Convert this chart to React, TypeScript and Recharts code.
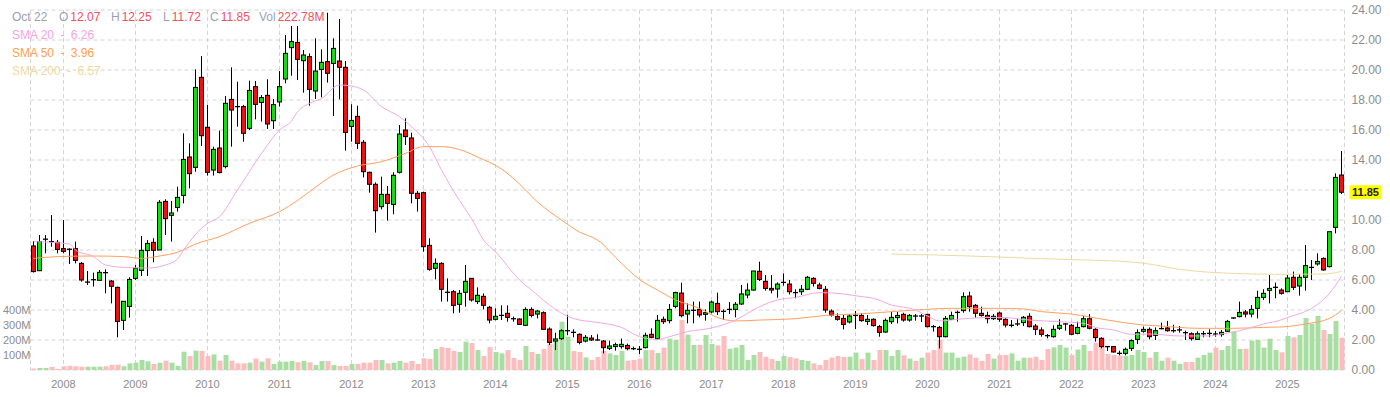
import React from "react";
import {
  ComposedChart,
  Bar,
  Line,
  XAxis,
  YAxis,
  CartesianGrid,
  Cell,
  ReferenceLine,
} from "recharts";

const FONT = "'Liberation Sans', Arial, sans-serif";

// first candle of the series
const START_YEAR = 2007;
const START_MONTH = 8;

// monthly candles: [open, high, low, close]
const candles: number[][] = [
  // 2007 (Aug - Dec)
  [8.27, 8.6, 6.5, 6.56], [6.62, 9.0, 6.6, 8.56], [8.7, 9.0, 7.78, 8.72], [8.6, 10.33, 8.22, 8.56], [8.51, 8.67, 7.78, 8.04],
  // 2008
  [8.09, 10.0, 7.78, 7.91], [8.07, 8.11, 7.07, 8.05], [8.09, 8.56, 7.11, 7.31], [7.11, 7.2, 5.89, 6.0],
  [5.84, 6.6, 5.67, 5.86], [6.0, 6.49, 5.56, 6.02], [5.98, 6.67, 5.98, 6.51], [6.51, 6.71, 5.11, 6.49],
  [5.93, 6.0, 4.44, 5.58], [5.51, 5.56, 2.18, 3.24], [3.31, 4.6, 2.67, 4.58], [4.24, 6.18, 3.49, 6.04],
  // 2009
  [6.11, 7.0, 6.0, 6.78], [6.64, 8.93, 6.27, 7.98], [7.96, 8.67, 6.27, 8.44], [8.51, 8.78, 7.18, 7.98],
  [8.0, 11.33, 8.0, 11.18], [11.24, 11.38, 9.0, 10.09], [10.31, 11.27, 8.56, 10.47], [10.84, 12.22, 10.56, 11.51],
  [11.64, 15.78, 11.11, 14.04], [14.2, 15.11, 12.11, 13.09], [13.51, 20.04, 13.22, 18.84], [19.51, 20.93, 14.93, 15.62],
  // 2010
  [16.18, 17.67, 12.96, 13.18], [13.33, 14.89, 12.96, 14.71], [14.8, 15.96, 13.11, 13.16], [13.56, 18.27, 13.44, 17.78],
  [18.04, 20.18, 14.89, 17.33], [17.6, 19.22, 16.22, 17.56], [17.56, 17.67, 15.22, 15.78], [16.11, 19.29, 16.0, 18.64],
  [18.89, 19.27, 16.71, 17.71], [17.84, 18.33, 16.56, 18.16], [18.31, 19.38, 16.07, 16.4], [16.62, 18.07, 16.07, 17.69],
  // 2011
  [17.87, 19.93, 17.56, 18.89], [19.4, 22.33, 19.11, 21.11], [21.49, 22.93, 19.62, 21.89], [21.84, 22.93, 19.33, 20.71],
  [20.62, 21.33, 18.49, 21.0], [20.89, 21.11, 17.62, 18.71], [18.6, 22.11, 18.07, 19.93], [20.04, 21.38, 18.18, 20.51],
  [20.56, 23.82, 19.16, 19.78], [20.44, 22.11, 16.93, 21.44], [20.6, 23.4, 18.04, 20.18], [20.18, 20.6, 14.62, 15.84],
  // 2012
  [16.24, 17.71, 15.22, 16.64], [16.91, 17.62, 14.73, 15.11], [15.18, 15.33, 12.84, 13.22], [13.18, 13.22, 11.82, 12.38],
  [12.38, 12.51, 9.16, 10.62], [10.89, 12.89, 10.71, 11.71], [11.71, 12.27, 9.96, 11.11], [11.04, 13.18, 10.38, 12.98],
  [13.18, 16.33, 13.1, 15.73], [16.0, 16.78, 15.0, 15.56], [15.47, 15.82, 11.11, 11.78], [11.78, 11.93, 10.56, 11.44],
  // 2013
  [11.82, 11.89, 7.89, 8.22], [8.31, 8.78, 6.62, 6.71], [6.78, 7.44, 6.04, 7.11], [7.11, 7.18, 4.56, 5.38],
  [5.2, 6.11, 4.56, 5.18], [5.22, 5.33, 3.78, 4.31], [4.38, 5.33, 3.82, 5.11], [5.18, 7.0, 4.22, 5.91],
  [6.11, 6.13, 4.56, 4.67], [4.56, 5.51, 4.4, 4.98], [4.91, 5.11, 4.04, 4.31], [4.18, 4.27, 3.11, 3.33],
  // 2014
  [3.38, 4.11, 3.31, 3.58], [3.62, 4.31, 3.33, 3.64], [3.78, 4.31, 3.22, 3.51], [3.44, 3.56, 3.22, 3.42],
  [3.4, 3.44, 3.0, 3.04], [2.98, 4.18, 2.93, 4.04], [4.04, 4.18, 3.51, 3.64], [3.73, 4.0, 3.44, 3.93],
  [3.82, 3.91, 2.67, 2.71], [2.73, 2.84, 1.67, 1.84], [1.93, 2.49, 1.33, 2.07], [2.09, 2.71, 2.0, 2.62],
  // 2015
  [2.6, 3.67, 2.33, 2.62], [2.53, 2.71, 2.18, 2.51], [2.38, 2.44, 1.71, 1.84], [1.93, 2.33, 1.84, 2.18],
  [2.13, 2.33, 1.93, 2.0], [2.02, 2.38, 1.96, 2.0], [1.93, 2.0, 1.11, 1.49], [1.44, 1.96, 1.33, 1.6],
  [1.56, 1.82, 1.29, 1.69], [1.56, 2.09, 1.42, 1.71], [1.64, 1.76, 1.31, 1.42], [1.44, 1.56, 1.33, 1.42],
  // 2016
  [1.4, 1.6, 1.07, 1.38], [1.49, 2.49, 1.44, 2.31], [2.38, 2.78, 2.11, 2.18], [2.09, 3.67, 2.04, 3.31],
  [3.38, 3.56, 3.07, 3.22], [3.29, 4.4, 3.11, 4.04], [4.24, 5.22, 4.11, 5.16], [5.13, 5.82, 3.51, 3.62],
  [3.73, 4.44, 3.11, 3.98], [3.96, 4.56, 3.11, 3.98], [4.04, 4.56, 3.51, 3.67], [3.71, 4.04, 3.29, 3.82],
  // 2017
  [3.87, 4.62, 3.78, 4.53], [4.44, 5.16, 3.67, 3.89], [3.93, 4.04, 3.33, 3.91], [4.02, 4.53, 3.73, 4.04],
  [4.04, 4.53, 3.51, 4.38], [4.4, 5.67, 4.33, 5.07], [5.0, 5.78, 4.78, 5.33], [5.33, 6.6, 5.29, 6.6],
  [6.58, 7.22, 5.93, 6.04], [5.91, 6.33, 5.29, 5.44], [5.44, 6.33, 5.11, 5.33], [5.4, 5.84, 4.82, 5.73],
  // 2018
  [5.82, 6.44, 5.62, 5.84], [5.73, 6.0, 5.04, 5.22], [5.18, 5.38, 4.78, 5.16], [5.22, 5.67, 5.0, 5.38],
  [5.38, 6.27, 5.33, 6.18], [6.11, 6.18, 5.56, 5.78], [5.67, 5.82, 5.38, 5.44], [5.38, 5.6, 3.82, 4.0],
  [3.93, 4.04, 3.56, 3.67], [3.56, 3.78, 3.29, 3.38], [3.44, 3.67, 2.71, 3.04], [3.2, 3.73, 3.11, 3.6],
  // 2019
  [3.62, 3.93, 2.73, 3.64], [3.64, 3.78, 3.22, 3.29], [3.24, 3.67, 3.0, 3.38], [3.38, 3.44, 2.89, 2.96],
  [2.89, 3.0, 2.22, 2.51], [2.53, 3.44, 2.49, 3.31], [3.22, 3.87, 3.07, 3.51], [3.49, 3.87, 3.11, 3.64],
  [3.71, 3.82, 3.22, 3.33], [3.33, 3.73, 3.22, 3.64], [3.62, 3.73, 3.29, 3.6], [3.58, 3.73, 3.2, 3.6],
  // 2020
  [3.71, 3.73, 2.84, 2.89], [2.91, 3.0, 2.56, 2.89], [2.84, 2.93, 1.44, 2.22], [2.22, 3.6, 2.18, 3.44],
  [3.38, 3.89, 3.33, 3.64], [3.82, 3.96, 3.22, 3.84], [3.96, 5.18, 3.82, 4.89], [4.93, 5.22, 3.89, 4.22],
  [4.31, 4.4, 3.49, 3.78], [3.78, 4.22, 3.56, 3.64], [3.64, 3.89, 3.11, 3.42], [3.42, 3.73, 3.33, 3.58],
  // 2021
  [3.8, 3.89, 3.22, 3.38], [3.38, 3.44, 2.84, 3.0], [2.96, 3.33, 2.84, 2.98], [3.05, 3.42, 2.93, 3.07],
  [3.16, 3.6, 2.93, 3.51], [3.58, 3.78, 2.84, 2.89], [2.93, 3.07, 2.33, 2.71], [2.67, 2.84, 2.22, 2.38],
  [2.31, 2.4, 2.11, 2.29], [2.22, 2.98, 2.16, 2.71], [2.78, 3.38, 2.67, 2.98], [3.05, 3.11, 2.62, 3.07],
  // 2022
  [2.98, 3.07, 2.33, 2.38], [2.44, 3.22, 2.38, 2.84], [2.89, 3.6, 2.84, 3.42], [3.42, 3.73, 2.71, 2.78],
  [2.71, 2.78, 1.89, 2.16], [2.11, 2.18, 1.44, 1.56], [1.58, 1.6, 1.27, 1.56], [1.56, 1.6, 1.16, 1.2],
  [1.13, 1.29, 0.98, 1.11], [1.11, 1.49, 0.98, 1.38], [1.44, 2.04, 1.27, 1.96], [2.04, 2.71, 1.73, 2.49],
  // 2023
  [2.58, 2.89, 2.49, 2.71], [2.71, 2.84, 2.04, 2.22], [2.31, 2.84, 2.0, 2.62], [2.74, 3.16, 2.71, 2.76],
  [2.8, 3.27, 2.56, 2.62], [2.6, 3.02, 2.49, 2.62], [2.65, 2.93, 2.49, 2.67], [2.51, 2.62, 2.0, 2.49],
  [2.42, 2.51, 1.96, 2.09], [2.04, 2.58, 2.0, 2.42], [2.4, 2.6, 2.18, 2.42], [2.42, 2.71, 2.18, 2.44],
  // 2024
  [2.42, 2.6, 2.22, 2.4], [2.36, 2.67, 2.22, 2.51], [2.58, 3.33, 2.53, 3.24], [3.45, 3.49, 3.4, 3.47],
  [3.56, 4.56, 3.51, 3.84], [3.87, 4.0, 3.51, 3.73], [3.73, 4.33, 3.51, 4.04], [4.11, 5.29, 3.44, 4.84],
  [4.84, 5.38, 4.67, 5.11], [5.31, 6.33, 4.44, 5.44], [5.49, 5.82, 4.78, 5.51], [5.33, 5.44, 5.02, 5.11],
  // 2025 (Jan - Oct)
  [5.22, 6.33, 5.22, 6.13], [6.18, 6.56, 5.33, 5.51], [5.6, 6.4, 4.96, 6.18], [6.18, 8.33, 5.29, 6.96],
  [6.8, 7.33, 6.0, 6.84], [7.07, 7.78, 6.96, 7.24], [7.44, 7.51, 6.62, 6.67], [6.89, 9.22, 6.84, 9.22],
  [9.51, 13.11, 9.11, 12.84], [13.0, 14.6, 11.73, 11.85],
];

// monthly volume, millions
const volumes: number[] = [
  10, 14, 14, 20, 8,
  25, 28, 25, 22, 22, 22, 22, 25, 35, 35, 25, 44,
  49, 67, 58, 40, 49, 62, 49, 27, 122, 93, 129, 127,
  93, 104, 62, 100, 62, 44, 44, 49, 76, 56, 78, 40,
  56, 56, 60, 52, 60, 51, 33, 60, 60, 33, 27, 27,
  40, 40, 49, 49, 67, 67, 44, 49, 60, 49, 60, 40,
  78, 73, 140, 153, 147, 127, 120, 189, 180, 133, 93, 153,
  120, 111, 133, 80, 67, 160, 120, 107, 140, 173, 200, 322,
  222, 127, 120, 84, 67, 87, 127, 111, 100, 127, 62, 67,
  76, 133, 133, 113, 149, 209, 200, 333, 236, 167, 167, 233,
  173, 164, 227, 142, 149, 167, 67, 100, 120, 89, 73, 60,
  93, 87, 78, 67, 60, 44, 33, 67, 82, 93, 87, 89,
  116, 73, 116, 67, 133, 133, 93, 133, 98, 76, 60, 82,
  116, 133, 200, 116, 116, 82, 89, 104, 82, 60, 107, 76,
  100, 100, 111, 62, 82, 82, 89, 67, 140, 151, 167, 149,
  100, 136, 167, 127, 182, 216, 107, 100, 96, 93, 100, 133,
  120, 82, 120, 62, 82, 62, 40, 53, 53, 82, 100, 116,
  149, 133, 160, 256, 140, 142, 196, 200, 149, 209, 133, 118,
  227, 218, 233, 347, 307, 360, 267, 240, 327, 215,
];

// moving averages at a few months
const sma20Points: [string, number][] = [
  ["2007-08", 8.56], ["2008-02", 8.4], ["2008-03", 8.0], ["2008-06", 7.56], ["2008-08", 7.0],
  ["2008-11", 6.84], ["2009-03", 6.8], ["2009-06", 7.0], ["2009-08", 7.4], ["2009-09", 8.0],
  ["2010-01", 9.78], ["2010-03", 10.22], ["2010-06", 12.0], ["2010-10", 14.44], ["2011-01", 16.0],
  ["2011-03", 16.6], ["2011-04", 17.2], ["2011-06", 17.78], ["2011-08", 18.1], ["2011-11", 19.0],
  ["2012-01", 18.93], ["2012-03", 18.67], ["2012-06", 17.56], ["2012-09", 16.89], ["2012-11", 16.22],
  ["2013-02", 14.89], ["2013-04", 13.33], ["2013-07", 11.3], ["2013-09", 10.1], ["2013-11", 8.67],
  ["2014-01", 7.89], ["2014-05", 6.0], ["2014-07", 5.33], ["2014-10", 4.33], ["2014-12", 3.78],
  ["2015-03", 3.33], ["2015-05", 3.22], ["2015-10", 2.84], ["2016-01", 2.22], ["2016-04", 2.04],
  ["2016-06", 2.22], ["2016-09", 2.56], ["2017-01", 2.8], ["2017-05", 3.33], ["2017-09", 4.22],
  ["2017-12", 4.67], ["2018-03", 4.84], ["2018-07", 5.16], ["2018-11", 5.07], ["2019-02", 4.89],
  ["2019-04", 4.78], ["2019-07", 4.33], ["2019-11", 4.0], ["2020-01", 3.6], ["2020-03", 3.27],
  ["2020-06", 3.38], ["2020-10", 3.49], ["2021-01", 3.51], ["2021-06", 3.33], ["2021-11", 3.22],
  ["2022-03", 3.11], ["2022-05", 2.84], ["2022-08", 2.67], ["2022-11", 2.38], ["2023-02", 2.4],
  ["2023-07", 2.27], ["2023-12", 2.27], ["2024-02", 2.4], ["2024-05", 2.62], ["2024-09", 3.07],
  ["2024-12", 3.35], ["2025-01", 3.5], ["2025-05", 4.11], ["2025-08", 5.11], ["2025-10", 6.26],
];

const sma50Points: [string, number][] = [
  ["2007-08", 7.44], ["2007-12", 7.56], ["2008-06", 7.6], ["2008-11", 7.56], ["2009-02", 7.44],
  ["2009-05", 7.6], ["2009-08", 7.85], ["2009-11", 8.4], ["2010-03", 8.89], ["2010-08", 9.78],
  ["2011-01", 10.56], ["2011-04", 11.3], ["2011-06", 11.89], ["2011-10", 13.0], ["2012-02", 13.6],
  ["2012-06", 13.89], ["2012-10", 14.44], ["2013-01", 14.89], ["2013-04", 14.89], ["2013-07", 14.7],
  ["2013-10", 14.2], ["2014-02", 13.4], ["2014-05", 12.4], ["2014-08", 11.2], ["2014-12", 10.0],
  ["2015-03", 9.2], ["2015-06", 8.67], ["2015-10", 7.11], ["2016-01", 6.04], ["2016-04", 5.33],
  ["2016-07", 4.67], ["2016-11", 4.11], ["2017-02", 3.5], ["2017-05", 3.27], ["2017-09", 3.33],
  ["2018-03", 3.42], ["2018-08", 3.64], ["2019-02", 3.75], ["2019-11", 4.0], ["2020-05", 4.11],
  ["2021-01", 4.11], ["2021-05", 4.07], ["2021-08", 3.89], ["2022-01", 3.73], ["2022-07", 3.33],
  ["2023-01", 3.0], ["2023-04", 2.93], ["2023-10", 2.78], ["2024-04", 2.78], ["2024-09", 2.84],
  ["2024-12", 2.87], ["2025-04", 3.07], ["2025-08", 3.44], ["2025-10", 3.96],
];

const sma200Points: [string, number][] = [
  ["2019-07", 7.73], ["2020-02", 7.67], ["2020-08", 7.6], ["2021-01", 7.53], ["2021-11", 7.38],
  ["2022-04", 7.33], ["2023-01", 7.12], ["2023-07", 6.71], ["2024-04", 6.44], ["2024-12", 6.38],
  ["2025-07", 6.4], ["2025-10", 6.57],
];

const yearTicks = [
  "2008-01", "2009-01", "2010-01", "2011-01", "2012-01", "2013-01", "2014-01", "2015-01", "2016-01",
  "2017-01", "2018-01", "2019-01", "2020-01", "2021-01", "2022-01", "2023-01", "2024-01", "2025-01",
];
const priceTicks = [0, 2, 4, 6, 8, 10, 12, 14, 16, 18, 20, 22, 24];
const volumeTicks = [100, 200, 300, 400];

const headerDate = "Oct 22";
const headerValues = [
  { key: "O", value: "12.07", x: 59 },
  { key: "H", value: "12.25", x: 111 },
  { key: "L", value: "11.72", x: 163 },
  { key: "C", value: "11.85", x: 210 },
  { key: "Vol", value: "222.78M", x: 259 },
];
const smaLegend = [
  { name: "SMA 20", value: "6.26", color: "#f4a3e6" },
  { name: "SMA 50", value: "3.96", color: "#ff9f4f" },
  { name: "SMA 200", value: "6.57", color: "#f0d9a0" },
];
const lastPrice = 11.85;

const UP = "#11dd11";
const DOWN = "#ee1111";
const VOL_UP = "#a9dea3";
const VOL_DOWN = "#fbbdbd";

const monthLabel = (i: number) => {
  const m = START_MONTH - 1 + i;
  const y = START_YEAR + Math.floor(m / 12);
  return `${y}-${String((m % 12) + 1).padStart(2, "0")}`;
};

const toMap = (pts: [string, number][]) => new Map(pts.map(([k, v]) => [k, v]));
const s20 = toMap(sma20Points);
const s50 = toMap(sma50Points);
const s200 = toMap(sma200Points);

const rows = candles.map(([open, high, low, close], i) => {
  const date = monthLabel(i);
  return {
    date,
    open,
    high,
    low,
    close,
    up: close >= open,
    volume: volumes[i],
    sma20: s20.get(date) ?? null,
    sma50: s50.get(date) ?? null,
    sma200: s200.get(date) ?? null,
  };
});

function Candle(props: any) {
  const { x, y, width, height, payload } = props;
  if (payload == null) return null;
  const { open, high, low, close, up } = payload;
  const cx = Math.floor(x + width / 2) + 0.5;
  const top = Math.min(y, y + height);
  const bot = Math.max(y, y + height);
  const k = high > low ? (bot - top) / (high - low) : 0;
  const yO = top + (high - open) * k;
  const yC = top + (high - close) * k;
  const bTop = Math.min(yO, yC);
  const bH = Math.abs(yO - yC);
  return (
    <g>
      <line x1={cx} x2={cx} y1={top} y2={bot} stroke="#000" strokeWidth={1} />
      {bH < 1.5 ? (
        <line x1={cx - 2.5} x2={cx + 2.5} y1={yC} y2={yC} stroke="#000" strokeWidth={1.3} />
      ) : (
        <rect
          x={cx - 2}
          y={bTop}
          width={4}
          height={bH}
          fill={up ? UP : DOWN}
          stroke="#000"
          strokeWidth={1}
        />
      )}
    </g>
  );
}

function PriceTag(props: any) {
  const { viewBox } = props;
  if (!viewBox) return null;
  const x = viewBox.x + viewBox.width + 5;
  const y = viewBox.y;
  return (
    <g>
      <rect x={x} y={y - 7} width={32} height={14} fill="#ffff00" />
      <text
        x={x + 16}
        y={y}
        dy="0.35em"
        textAnchor="middle"
        fontSize={11}
        fontWeight="bold"
        fontFamily={FONT}
        fill="#222"
      >
        {lastPrice.toFixed(2)}
      </text>
    </g>
  );
}

const axisTick = { fontSize: 11, fill: "#8c8c8c", fontFamily: FONT };

export default function App() {
  return (
    <div
      style={{
        position: "absolute",
        left: 0,
        top: 0,
        width: 1390,
        height: 397,
        background: "#fff",
        fontFamily: FONT,
      }}
    >
      <ComposedChart
        width={1390}
        height={397}
        data={rows}
        margin={{ top: 10, right: 0, bottom: 0, left: 0 }}
        barCategoryGap={0}
        barGap={0}
      >
        <CartesianGrid
          xAxisId="a"
          yAxisId="price"
          stroke="#d4d4d4"
          strokeDasharray="4 3"
        />
        <XAxis
          xAxisId="a"
          dataKey="date"
          ticks={yearTicks}
          interval={0}
          tickFormatter={(v) => String(v).slice(0, 4)}
          tickLine={false}
          axisLine={false}
          tickSize={0}
          tickMargin={10}
          height={27}
          tick={axisTick}
        />
        <XAxis xAxisId="b" dataKey="date" hide />
        <YAxis
          yAxisId="price"
          orientation="right"
          domain={[0, 24]}
          ticks={priceTicks}
          interval={0}
          tickFormatter={(v) => (v === 12 ? "" : Number(v).toFixed(2))}
          tickLine={false}
          axisLine={false}
          tickSize={0}
          tickMargin={7}
          width={45.5}
          tick={{ ...axisTick, fontSize: 12 }}
        />
        <YAxis
          yAxisId="vol"
          orientation="left"
          domain={[0, 2400]}
          ticks={volumeTicks}
          interval={0}
          tickFormatter={(v) => `${v}M`}
          tickLine={false}
          axisLine={false}
          tickSize={0}
          tickMargin={0}
          width={30.5}
          tick={axisTick}
        />

        <Bar
          xAxisId="b"
          yAxisId="vol"
          dataKey="volume"
          barSize={5}
          isAnimationActive={false}
        >
          {rows.map((r, i) => (
            <Cell key={`v-${i}`} fill={r.up ? VOL_UP : VOL_DOWN} />
          ))}
        </Bar>

        <Line
          xAxisId="a"
          yAxisId="price"
          dataKey="sma200"
          type="monotone"
          stroke="#f0d9a0"
          strokeWidth={1}
          dot={false}
          connectNulls
          isAnimationActive={false}
        />
        <Line
          xAxisId="a"
          yAxisId="price"
          dataKey="sma50"
          type="monotone"
          stroke="#ffa060"
          strokeWidth={1}
          dot={false}
          connectNulls
          isAnimationActive={false}
        />
        <Line
          xAxisId="a"
          yAxisId="price"
          dataKey="sma20"
          type="monotone"
          stroke="#f0a8e6"
          strokeWidth={1}
          dot={false}
          connectNulls
          isAnimationActive={false}
        />

        <Bar
          xAxisId="a"
          yAxisId="price"
          dataKey={(d: any) => [d.low, d.high]}
          barSize={6}
          shape={<Candle />}
          isAnimationActive={false}
        />

        <ReferenceLine
          xAxisId="a"
          yAxisId="price"
          y={lastPrice}
          stroke="none"
          label={<PriceTag />}
        />
      </ComposedChart>

      <div style={{ position: "absolute", left: 0, top: 0, fontSize: 12, lineHeight: "14px" }}>
        <span style={{ position: "absolute", left: 12, top: 10, color: "#9c9fb3", whiteSpace: "nowrap" }}>
          {headerDate}
        </span>
        {headerValues.map((h) => (
          <span
            key={h.key}
            style={{ position: "absolute", left: h.x, top: 10, whiteSpace: "nowrap" }}
          >
            <span style={{ color: "#9c9fb3" }}>{h.key}</span>
            <span style={{ color: "#f2515f", marginLeft: 2 }}>{h.value}</span>
          </span>
        ))}
        {smaLegend.map((s, i) => (
          <span
            key={s.name}
            style={{
              position: "absolute",
              left: 12,
              top: 28 + i * 18,
              color: s.color,
              whiteSpace: "nowrap",
            }}
          >
            {s.name} <span style={{ margin: "0 3px" }}>-</span> {s.value}
          </span>
        ))}
      </div>
    </div>
  );
}
